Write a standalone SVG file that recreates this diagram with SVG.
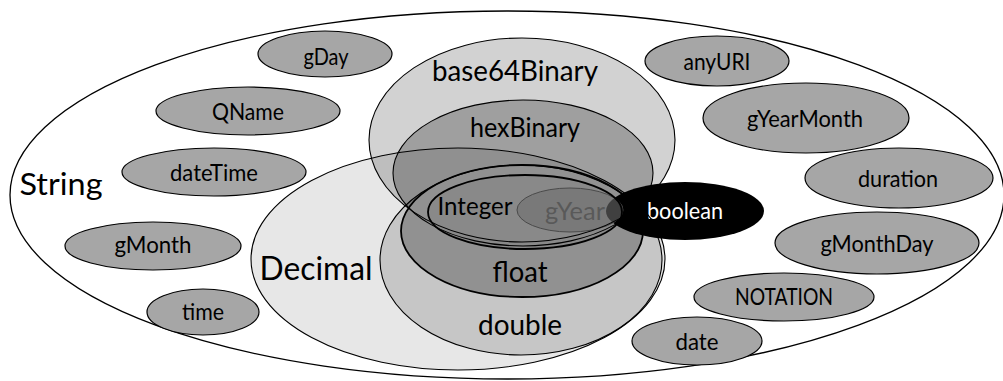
<svg xmlns="http://www.w3.org/2000/svg" xmlns:xlink="http://www.w3.org/1999/xlink" width="1003" height="381" viewBox="0 0 1003 381">
<style>
  text { font-family: Lato, "Liberation Sans", sans-serif; text-anchor: middle; fill: #000; }
  .sm { font-size: 22.5px; }
  .small { fill: #a6a6a6; stroke: #000; stroke-width: 1.2; }
  .ol { fill: none; stroke: #000; stroke-width: 1.1; }
  .olb { fill: none; stroke: #000; stroke-width: 1.8; }
</style>
<defs>
  <ellipse id="e-decimal" cx="458" cy="259" rx="207" ry="111"/>
  <ellipse id="e-double" cx="521" cy="260" rx="141" ry="95"/>
  <ellipse id="e-base64" cx="522" cy="140" rx="153" ry="102"/>
  <ellipse id="e-hex" cx="523" cy="173" rx="130" ry="73"/>
  <ellipse id="e-float" cx="522" cy="231" rx="121" ry="66"/>
  <ellipse id="e-integer" cx="525" cy="212" rx="97" ry="37"/>
  <ellipse id="e-boolean" cx="685" cy="211" rx="79" ry="29"/>
  <ellipse id="e-gyear" cx="570" cy="210" rx="53" ry="22"/>
</defs>

<g id="string">
  <ellipse cx="507" cy="195" rx="497" ry="184" fill="#fff" stroke="#000" stroke-width="1.3"/>
  <text x="61" y="195" font-size="30" textLength="83" lengthAdjust="spacingAndGlyphs">String</text>
</g>

<g id="gDay"><ellipse class="small" cx="325" cy="54" rx="67" ry="23"/><text class="sm" x="326" y="65" textLength="45" lengthAdjust="spacingAndGlyphs">gDay</text></g>
<g id="QName"><ellipse class="small" cx="248" cy="111" rx="92" ry="24"/><text class="sm" x="248" y="120" textLength="72" lengthAdjust="spacingAndGlyphs">QName</text></g>
<g id="dateTime"><ellipse class="small" cx="214" cy="172" rx="92" ry="24"/><text class="sm" x="214" y="181" textLength="88" lengthAdjust="spacingAndGlyphs">dateTime</text></g>
<g id="gMonth"><ellipse class="small" cx="153" cy="246" rx="88" ry="24"/><text class="sm" x="153" y="253" textLength="77" lengthAdjust="spacingAndGlyphs">gMonth</text></g>
<g id="time"><ellipse class="small" cx="203" cy="312" rx="56" ry="23"/><text class="sm" x="203" y="320" textLength="42" lengthAdjust="spacingAndGlyphs">time</text></g>
<g id="anyURI"><ellipse class="small" cx="717" cy="61" rx="72" ry="25"/><text class="sm" x="717" y="70" textLength="67" lengthAdjust="spacingAndGlyphs">anyURI</text></g>
<g id="gYearMonth"><ellipse class="small" cx="806" cy="118" rx="103" ry="35"/><text class="sm" x="805" y="127" textLength="116" lengthAdjust="spacingAndGlyphs">gYearMonth</text></g>
<g id="duration"><ellipse class="small" cx="899" cy="178" rx="94" ry="30"/><text class="sm" x="898" y="187" textLength="80" lengthAdjust="spacingAndGlyphs">duration</text></g>
<g id="gMonthDay"><ellipse class="small" cx="877" cy="243" rx="102" ry="31"/><text class="sm" x="877" y="252" textLength="113" lengthAdjust="spacingAndGlyphs">gMonthDay</text></g>
<g id="NOTATION"><ellipse class="small" cx="784" cy="297" rx="90" ry="24"/><text class="sm" x="784" y="305" textLength="98" lengthAdjust="spacingAndGlyphs">NOTATION</text></g>
<g id="date"><ellipse class="small" cx="697" cy="341" rx="65" ry="24"/><text class="sm" x="697" y="350" textLength="43" lengthAdjust="spacingAndGlyphs">date</text></g>

<g id="decimal">
  <use xlink:href="#e-decimal" href="#e-decimal" fill="#e7e7e7"/>
  <text x="316" y="280" font-size="32" textLength="113" lengthAdjust="spacingAndGlyphs">Decimal</text>
</g>
<g id="double">
  <use xlink:href="#e-double" href="#e-double" fill="#c6c6c6"/>
  <text x="520" y="335" font-size="28" textLength="84" lengthAdjust="spacingAndGlyphs">double</text>
</g>
<g id="base64Binary">
  <use xlink:href="#e-base64" href="#e-base64" fill="#000" fill-opacity="0.175"/>
  <text x="515" y="81" font-size="29" textLength="166" lengthAdjust="spacingAndGlyphs">base64Binary</text>
</g>
<g id="hexBinary">
  <use xlink:href="#e-hex" href="#e-hex" fill="#000" fill-opacity="0.24"/>
  <text x="525" y="137" font-size="26" textLength="110" lengthAdjust="spacingAndGlyphs">hexBinary</text>
</g>
<g id="float">
  <use xlink:href="#e-float" href="#e-float" fill="#919191"/>
  <text x="520" y="282" font-size="28" textLength="55" lengthAdjust="spacingAndGlyphs">float</text>
</g>
<g id="integer">
  <use xlink:href="#e-integer" href="#e-integer" fill="#898989"/>
  <text x="475" y="215" font-size="25" textLength="75" lengthAdjust="spacingAndGlyphs">Integer</text>
</g>
<g id="boolean">
  <use xlink:href="#e-boolean" href="#e-boolean" fill="#000"/>
  <text class="sm" x="685" y="219" textLength="76" lengthAdjust="spacingAndGlyphs" style="fill:#fff">boolean</text>
</g>
<g id="gYear">
  <use xlink:href="#e-gyear" href="#e-gyear" fill="#6e6e6e" fill-opacity="0.58" stroke="#4a4a4a" stroke-width="1"/>
  <text x="575" y="220" font-size="25" textLength="60" lengthAdjust="spacingAndGlyphs" style="fill:#595959">gYear</text>
</g>

<g id="outlines">
  <use xlink:href="#e-decimal" href="#e-decimal" class="ol"/>
  <use xlink:href="#e-double" href="#e-double" class="ol"/>
  <use xlink:href="#e-base64" href="#e-base64" class="ol"/>
  <use xlink:href="#e-hex" href="#e-hex" class="ol"/>
  <use xlink:href="#e-float" href="#e-float" class="olb"/>
  <use xlink:href="#e-integer" href="#e-integer" class="olb"/>
</g>
</svg>
